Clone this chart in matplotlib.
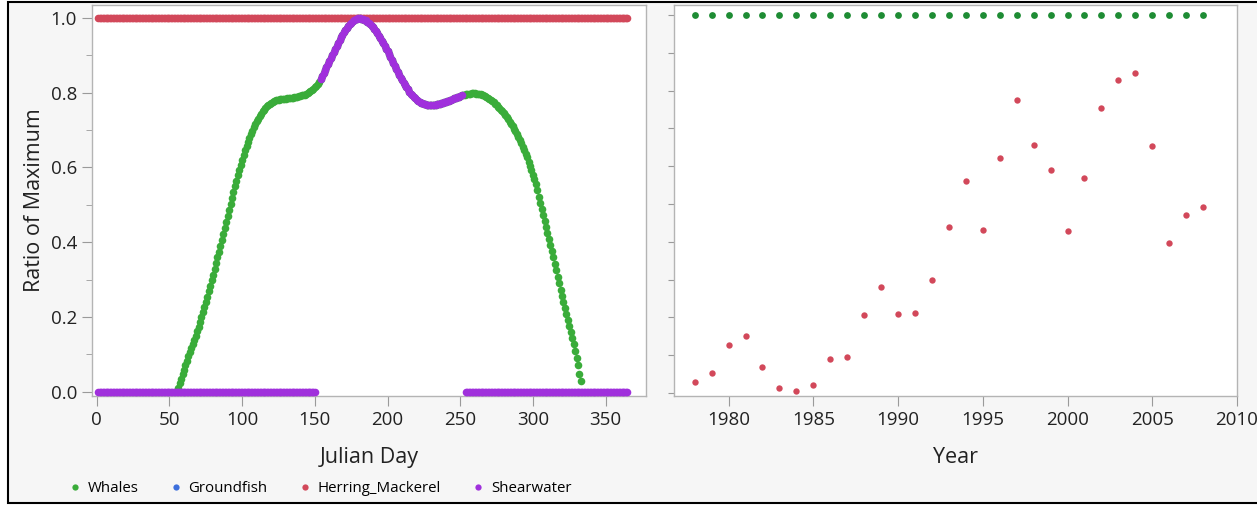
import matplotlib

matplotlib.use("Agg")
import matplotlib.pyplot as plt
from matplotlib.lines import Line2D
from matplotlib.patches import Rectangle
import numpy as np

plt.rcParams["font.family"] = ["Open Sans", "DejaVu Sans"]

# ---- data -------------------------------------------------------------
# left panel: daily ratio of maximum, by Julian day
whale_days = list(range(56, 334))
whale_ratio = [
    0.010, 0.022, 0.034, 0.046, 0.058, 0.070, 0.082, 0.094, 0.106, 0.117,  # 56-65
    0.128, 0.139, 0.150, 0.162, 0.174, 0.187, 0.200, 0.213, 0.226, 0.240,  # 66-75
    0.254, 0.268, 0.283, 0.298, 0.313, 0.328, 0.343, 0.359, 0.375, 0.391,  # 76-85
    0.407, 0.423, 0.439, 0.455, 0.471, 0.487, 0.503, 0.519, 0.535, 0.550,  # 86-95
    0.565, 0.580, 0.594, 0.608, 0.621, 0.634, 0.646, 0.658, 0.669, 0.680,  # 96-105
    0.690, 0.699, 0.708, 0.716, 0.724, 0.731, 0.738, 0.744, 0.750, 0.755,  # 106-115
    0.760, 0.764, 0.768, 0.771, 0.774, 0.776, 0.778, 0.780, 0.781, 0.782,  # 116-125
    0.783, 0.783, 0.784, 0.784, 0.784, 0.785, 0.785, 0.786, 0.786, 0.787,  # 126-135
    0.788, 0.789, 0.790, 0.791, 0.792, 0.793, 0.794, 0.795, 0.797, 0.799,  # 136-145
    0.801, 0.804, 0.807, 0.811, 0.815, 0.819, 0.824, 0.830, 0.837, 0.845,  # 146-155
    0.854, 0.862, 0.870, 0.878, 0.886, 0.894, 0.902, 0.910, 0.918, 0.926,  # 156-165
    0.934, 0.942, 0.950, 0.956, 0.962, 0.968, 0.974, 0.979, 0.984, 0.988,  # 166-175
    0.992, 0.995, 0.997, 0.999, 1.000, 1.000, 0.999, 0.998, 0.996, 0.994,  # 176-185
    0.991, 0.988, 0.984, 0.980, 0.975, 0.970, 0.965, 0.959, 0.953, 0.947,  # 186-195
    0.940, 0.933, 0.926, 0.918, 0.911, 0.903, 0.896, 0.888, 0.880, 0.872,  # 196-205
    0.864, 0.856, 0.849, 0.841, 0.834, 0.827, 0.821, 0.815, 0.809, 0.803,  # 206-215
    0.798, 0.793, 0.789, 0.785, 0.782, 0.779, 0.776, 0.774, 0.772, 0.770,  # 216-225
    0.769, 0.768, 0.768, 0.767, 0.767, 0.767, 0.768, 0.768, 0.769, 0.770,  # 226-235
    0.771, 0.772, 0.773, 0.775, 0.776, 0.778, 0.779, 0.781, 0.782, 0.784,  # 236-245
    0.785, 0.787, 0.788, 0.790, 0.791, 0.793, 0.794, 0.795, 0.796, 0.797,  # 246-255
    0.798, 0.798, 0.799, 0.799, 0.799, 0.798, 0.798, 0.797, 0.796, 0.794,  # 256-265
    0.793, 0.791, 0.789, 0.786, 0.784, 0.781, 0.778, 0.775, 0.771, 0.767,  # 266-275
    0.763, 0.759, 0.755, 0.750, 0.745, 0.740, 0.735, 0.729, 0.723, 0.717,  # 276-285
    0.711, 0.704, 0.697, 0.690, 0.682, 0.674, 0.665, 0.656, 0.647, 0.637,  # 286-295
    0.627, 0.616, 0.605, 0.593, 0.581, 0.568, 0.555, 0.540, 0.522, 0.505,  # 296-305
    0.489, 0.473, 0.457, 0.441, 0.425, 0.409, 0.393, 0.376, 0.359, 0.342,  # 306-315
    0.325, 0.307, 0.290, 0.273, 0.256, 0.240, 0.224, 0.208, 0.192, 0.176,  # 316-325
    0.160, 0.143, 0.126, 0.108, 0.090, 0.070, 0.048, 0.027,                # 326-333
]
herring_days = list(range(1, 366))
herring_ratio = [1.0] * len(herring_days)
shear_zero_days = list(range(1, 151)) + list(range(254, 366))
shear_peak_days = list(range(154, 252))

# right panel: yearly ratio of maximum
years = list(range(1978, 2009))
whale_year_ratio = [1.0] * len(years)
herring_year_ratio = [
    0.030, 0.052, 0.127, 0.150, 0.068, 0.013, 0.005, 0.020, 0.090, 0.096,
    0.207, 0.279, 0.209, 0.211, 0.298, 0.439, 0.562, 0.432, 0.621, 0.775,
    0.656, 0.589, 0.429, 0.569, 0.753, 0.828, 0.847, 0.653, 0.397, 0.472,
    0.492,
]

series_names = ["Whales", "Groundfish", "Herring_Mackerel", "Shearwater"]
colors = {"Whales": "#3aac3a", "Groundfish": "#3d6fdc", "Herring_Mackerel": "#d2485a", "Shearwater": "#a030dc"}
whale_dark = "#1e8c34"

# ---- figure -----------------------------------------------------------
fig = plt.figure(figsize=(12.57, 5.05), dpi=100)
fig.patch.set_facecolor("white")
fig.add_artist(Rectangle((8 / 1257, 2 / 505), 1.2, 1 - 4 / 505, transform=fig.transFigure,
                         facecolor="#f6f6f6", edgecolor="black", linewidth=1.5, zorder=0))

ax1 = fig.add_axes([91.7 / 1257, 1 - 396 / 505, (646 - 91.7) / 1257, (396 - 4.7) / 505])
ax2 = fig.add_axes([674 / 1257, 1 - 396 / 505, (1237 - 674) / 1257, (396 - 4.7) / 505])

shear_peak = [whale_ratio[d - whale_days[0]] for d in shear_peak_days]

ax1.scatter(whale_days, whale_ratio, s=30, color=colors["Whales"], linewidths=0, zorder=2)
ax1.scatter(herring_days, herring_ratio, s=30, color=colors["Herring_Mackerel"], linewidths=0, zorder=3)
ax1.scatter(shear_zero_days, [0.0] * len(shear_zero_days), s=30, color=colors["Shearwater"], linewidths=0, zorder=4)
ax1.scatter(shear_peak_days, shear_peak, s=30, color=colors["Shearwater"], linewidths=0, zorder=4)

ax2.scatter(years, whale_year_ratio, s=24, color=whale_dark, linewidths=0, zorder=2)
ax2.scatter(years, herring_year_ratio, s=21, color=colors["Herring_Mackerel"], linewidths=0, zorder=3)

ax1.set_xlim(-3.5, 377.8)
ax1.set_ylim(-0.012, 1.036)
ax1.set_xticks(np.arange(0, 351, 50))
ax1.set_yticks(np.arange(0, 1.01, 0.2))
ax1.set_yticks(np.arange(0.1, 1.0, 0.2), minor=True)
ax1.set_yticklabels([f"{v:.1f}" for v in np.arange(0, 1.01, 0.2)])
ax1.set_xlabel("Julian Day", fontsize=15.5, color="#222222", labelpad=13)
ax1.set_ylabel("Ratio of Maximum", fontsize=15.5, color="#222222", labelpad=4)

ax2.set_xlim(1976.78, 2010)
ax2.set_ylim(-0.008, 1.027)
ax2.set_xticks(np.arange(1980, 2011, 5))
ax2.set_yticks(np.arange(0, 1.01, 0.1))
ax2.set_yticklabels([])
ax2.set_xlabel("Year", fontsize=15.5, color="#222222", labelpad=13)

for ax in (ax1, ax2):
    ax.set_facecolor("white")
    for sp in ax.spines.values():
        sp.set_color("#b4b4b4")
        sp.set_linewidth(1.0)
    ax.tick_params(axis="both", which="major", length=7, color="#9a9a9a", labelsize=13.5, labelcolor="#222222")
    ax.tick_params(axis="both", which="minor", length=4, color="#9a9a9a")
ax2.tick_params(axis="y", which="major", length=4)

handles = [Line2D([], [], linestyle="", marker="o", markersize=4.5, markeredgewidth=0,
                  color=colors[name]) for name in series_names]
fig.legend(handles, series_names, loc="center left", bbox_to_anchor=(69 / 1257, 1 - 489 / 505),
           ncol=4, frameon=False, fontsize=10.8, handlelength=0.8, handletextpad=0.45,
           columnspacing=2.08, borderpad=0, borderaxespad=0)

fig.savefig("out.png", dpi=100, facecolor=fig.get_facecolor())
